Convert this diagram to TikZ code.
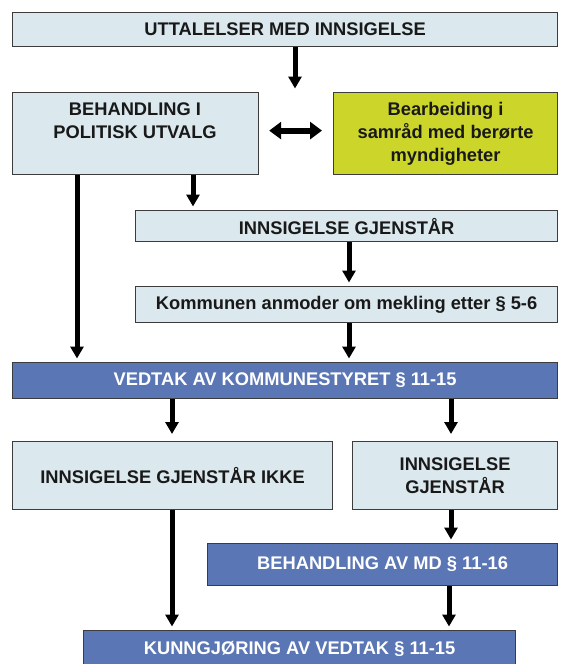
\documentclass[tikz,border=0pt]{standalone}
\usepackage{fontspec}
\setmainfont{Liberation Sans}
\usetikzlibrary{arrows.meta}
\definecolor{lightbox}{RGB}{219,232,238}
\definecolor{greenbox}{RGB}{204,214,42}
\definecolor{bluebox}{RGB}{91,118,180}
\definecolor{edge}{RGB}{60,60,60}
\tikzset{
  box/.style={draw=edge, line width=1.2pt, fill=lightbox, anchor=north west, inner sep=0pt,
    font=\bfseries\fontsize{18.3}{23}\selectfont, align=center, text=black!90},
  gbox/.style={box, fill=greenbox},
  bbox/.style={box, fill=bluebox, text=white},
  txt/.style={font=\bfseries\fontsize{18.3}{23}\selectfont, align=center, inner sep=0pt, text=black!90},
  arr/.style={line width=5pt, shorten >=3.5pt, -{Triangle[width=13pt,length=12pt]}},
  darr/.style={line width=6pt, {Triangle[width=17pt,length=12pt]}-{Triangle[width=17pt,length=12pt]}},
}
\begin{document}
\begin{tikzpicture}[x=1pt,y=-1pt]
\useasboundingbox (0,0) rectangle (562,664);
\begin{scope}
\clip (0,0) rectangle (562,664);
\node[box, minimum width=545, minimum height=34] (a) at (12,12) {UTTALELSER MED INNSIGELSE};
\node[box, minimum width=246, minimum height=82] (b) at (12,92) {};
\node[txt] (btext) at (135,121) {BEHANDLING I\\POLITISK UTVALG};
\node[gbox, minimum width=224, minimum height=82] (c) at (333,92) {Bearbeiding i\\samråd med berørte\\myndigheter};
\node[box, minimum width=422, minimum height=31] (d) at (135,210) {INNSIGELSE GJENSTÅR};
\node[box, minimum width=422, minimum height=36] (e) at (135,286) {Kommunen anmoder om mekling etter § 5-6};
\node[bbox, minimum width=545, minimum height=36] (f) at (12,362) {VEDTAK AV KOMMUNESTYRET § 11-15};
\node[box, minimum width=320, minimum height=68] (g) at (12,441) {INNSIGELSE GJENSTÅR IKKE};
\node[box, minimum width=205, minimum height=68] (h) at (352,441) {INNSIGELSE\\GJENSTÅR};
\node[bbox, minimum width=350, minimum height=42] (i) at (207,543) {BEHANDLING AV MD § 11-16};
\node[bbox, minimum width=432, minimum height=40, text depth=0pt] (k) at (83,630) {\raisebox{6pt}{KUNNGJØRING AV VEDTAK § 11-15}};
\end{scope}
% arrows
\draw[arr] (a.south -| 295,0) -- (b.north -| 295,0);
\draw[darr] ([xshift=10pt,yshift=3pt]b.east) -- ([xshift=-11pt,yshift=3pt]c.west);
\draw[arr] (b.south -| 193,0) -- (d.north -| 193,0);
\draw[arr] (b.south -| 77,0) -- (f.north -| 77,0);
\draw[arr] (d.south -| 349,0) -- (e.north -| 349,0);
\draw[arr] (e.south -| 349,0) -- (f.north -| 349,0);
\draw[arr, shorten >=7pt] (f.south -| 172,0) -- (g.north -| 172,0);
\draw[arr, shorten >=7pt] (f.south -| 451,0) -- (h.north -| 451,0);
\draw[arr] (h.south -| 451,0) -- (i.north -| 451,0);
\draw[arr] (g.south -| 172,0) -- (k.north -| 172,0);
\draw[arr] (i.south -| 449,0) -- (k.north -| 449,0);
\end{tikzpicture}
\end{document}
